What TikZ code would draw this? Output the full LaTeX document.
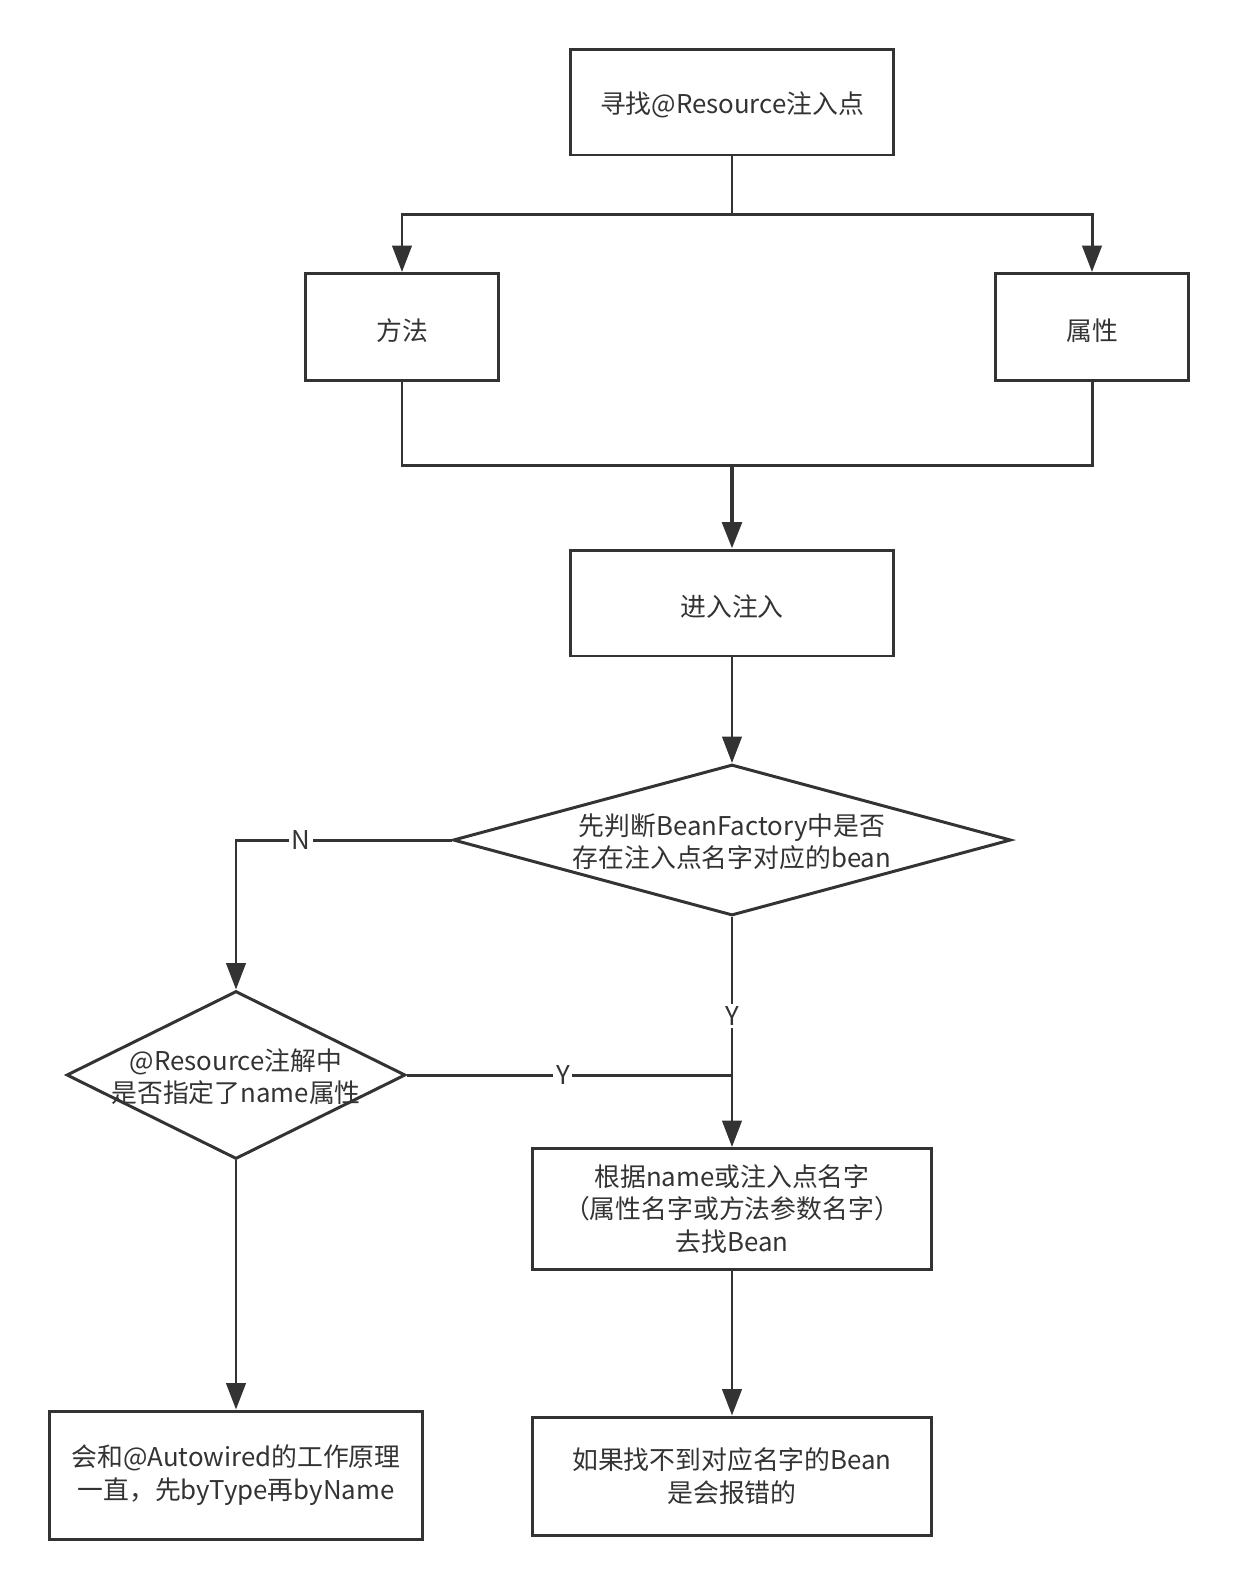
\documentclass[tikz,border=0pt]{standalone}
\usepackage{fontspec}
\setmainfont{Noto Sans CJK SC}
\usetikzlibrary{shapes.geometric,arrows.meta}
\definecolor{ink}{HTML}{333333}

\tikzset{
  box/.style={draw=ink, line width=1.7pt, text=ink, align=center, inner sep=2pt},
  onebox/.style={box, text height=16pt},
  decision/.style={draw=ink, line width=1.7pt, diamond, inner sep=0pt},
  txt/.style={text=ink, align=center, inner sep=0pt},
  line/.style={draw=ink, line width=1.7pt},
  arr/.style={line, -{Triangle[width=11pt,length=15pt]}},
  lbl/.style={fill=white, text=ink, inner sep=1.5pt}
}

\begin{document}
\begin{tikzpicture}[x=0.02cm, y=-0.02cm, font=\fontsize{14.7}{18.5}\selectfont]
   \useasboundingbox (0,0) rectangle (1238,1590);
   % boxes
   \node[onebox, minimum width=6.48cm, minimum height=2.12cm] (find) at (732,102) {寻找@Resource注入点};
   \node[onebox, minimum width=3.86cm, minimum height=2.14cm] (meth) at (402,327) {方法};
   \node[onebox, minimum width=3.86cm, minimum height=2.14cm] (attr) at (1092,327) {属性};
   \node[onebox, minimum width=6.48cm, minimum height=2.12cm] (enter) at (732,603) {进入注入};
   \node[decision, minimum width=11.16cm, minimum height=3.02cm] (chk1) at (732,840) {};
   \node[txt, yshift=-1pt] (chk1t) at (chk1) {先判断BeanFactory中是否\\存在注入点名字对应的bean};
   \node[decision, minimum width=6.78cm, minimum height=3.36cm] (chk2) at (236,1075) {};
   \node[txt, yshift=-1pt] (chk2t) at (chk2) {@Resource注解中\\是否指定了name属性};
   \node[box, minimum width=8cm, minimum height=2.42cm] (byname) at (732,1209) {根据name或注入点名字\\（属性名字或方法参数名字）\\去找Bean};
   \node[box, minimum width=7.46cm, minimum height=2.56cm] (same) at (236,1475) {会和@Autowired的工作原理\\一直，先byType再byName};
   \node[box, minimum width=8cm, minimum height=2.36cm] (fail) at (732,1476) {如果找不到对应名字的Bean\\是会报错的};
   % connectors
   \draw[line] (find.south) -- (find.south |- 0,214) coordinate (split);
   \draw[arr] (split) -| (meth.north);
   \draw[arr] (split) -| (attr.north);
   \coordinate (merge) at (732,465);
   \draw[line] (meth.south) |- (merge);
   \draw[line] (attr.south) |- (merge);
   \draw[arr, line width=2.6pt] (merge) -- (enter.north);
   \draw[arr] (enter) -- (chk1);
   \draw[arr] (chk1.west) -| node[lbl, pos=0.35] {N} (chk2.north);
   \draw[arr] (chk1.south) -- node[lbl, pos=0.43] {Y} (byname.north);
   \draw[line] (chk2.east) -- node[lbl, pos=0.48] {Y} (chk2.east -| byname.north);
   \draw[arr] (chk2) -- (same);
   \draw[arr] (byname) -- (fail);
\end{tikzpicture}
\end{document}
